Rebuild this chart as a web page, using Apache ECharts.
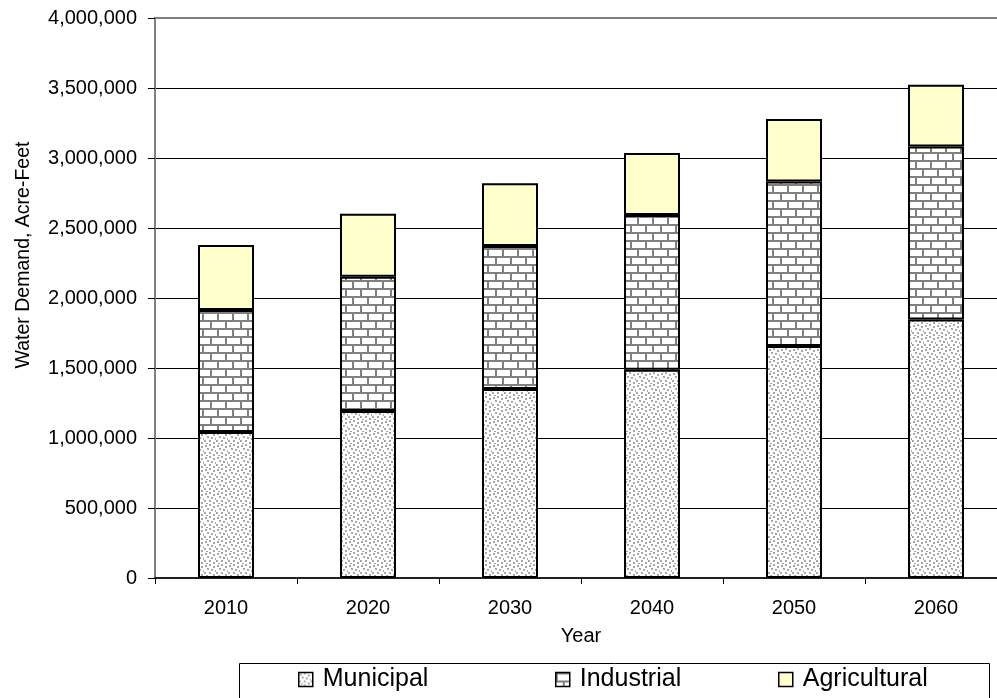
<!DOCTYPE html>
<html>
<head>
<meta charset="utf-8">
<script src="https://cdn.jsdelivr.net/npm/echarts@6/dist/echarts.min.js"></script>
<style>
html,body{margin:0;padding:0;background:#fff;overflow:hidden;width:997px;height:698px;}
#chart{width:1012px;height:698px;}
</style>
</head>
<body>
<div id="chart"></div>
<script>
var years = ['2010', '2020', '2030', '2040', '2050', '2060'];
var municipal = [1043000, 1193000, 1350000, 1488000, 1657000, 1847000];
var industrial = [871000, 959000, 1021000, 1105000, 1176000, 1236000];
var agricultural = [465000, 450000, 448000, 443000, 446000, 441000];
var seriesNames = ['Municipal', 'Industrial', 'Agricultural'];
var yMin = 0, yMax = 4000000, yStep = 500000;

function dotPattern() {
  var c = document.createElement('canvas');
  c.width = 12; c.height = 12;
  var g = c.getContext('2d');
  g.fillStyle = '#ffffff'; g.fillRect(0, 0, 12, 12);
  g.fillStyle = '#a8a8a8';
  var pts = [[1,1],[5,0],[9,2],[3,4],[7,5],[11,6],[0,8],[5,8],[9,10],[2,11]];
  pts.forEach(function (p) { g.fillRect(p[0], p[1], 2, 2); });
  return c;
}
function brickPattern() {
  var c = document.createElement('canvas');
  c.width = 15; c.height = 16;
  var g = c.getContext('2d');
  g.fillStyle = '#ffffff'; g.fillRect(0, 0, 15, 16);
  g.fillStyle = '#808080';
  g.fillRect(0, 0, 15, 2);
  g.fillRect(0, 8, 15, 2);
  g.fillRect(0, 2, 2, 6);
  g.fillRect(7, 10, 2, 6);
  return c;
}

var chart = echarts.init(document.getElementById('chart'), null, {renderer: 'canvas'});
var fills = [
  {image: dotPattern(), repeat: 'repeat'},
  {image: brickPattern(), repeat: 'repeat'},
  '#FFFFCC'
];
var values = [municipal, industrial, agricultural];
var FONT = 'Liberation Sans, Arial, sans-serif';

var legendLefts = [298, 555, 778];
var legends = seriesNames.map(function (n, i) {
  return {
    data: [n],
    left: legendLefts[i],
    top: 667,
    padding: 0,
    icon: 'rect',
    itemWidth: 14,
    itemHeight: 14,
    selectedMode: false,
    itemStyle: {borderColor: '#000', borderWidth: 1.5},
    textStyle: {fontFamily: FONT, fontSize: 25, color: '#000', lineHeight: 25, padding: [0, 0, 0, 5]}
  };
});

var option = {
  animation: false,
  backgroundColor: '#ffffff',
  textStyle: {fontFamily: FONT},
  grid: {
    left: 155, top: 18, width: 852, height: 560,
    show: true, borderColor: '#808080', borderWidth: 2, backgroundColor: 'transparent',
    containLabel: false
  },
  legend: legends,
  graphic: [
    {type: 'rect', left: 237, top: 661, z: -1, shape: {x: 0, y: 0, width: 750, height: 36},
     style: {fill: 'none', stroke: '#000', lineWidth: 1}},
    {type: 'text', x: 24, y: 255, rotation: Math.PI / 2,
     style: {text: 'Water Demand, Acre-Feet', font: '19.5px ' + FONT, fill: '#000', align: 'center', verticalAlign: 'middle'}}
  ],
  xAxis: {
    type: 'category',
    data: years,
    name: 'Year',
    nameLocation: 'middle',
    nameGap: 48,
    nameTextStyle: {fontFamily: FONT, fontSize: 20, color: '#000'},
    axisLine: {show: true, lineStyle: {color: '#000', width: 1.5}},
    axisTick: {show: true, length: 6, interval: 0, lineStyle: {color: '#000', width: 1}},
    axisLabel: {fontFamily: FONT, fontSize: 20, color: '#000', margin: 20, interval: 0},
    splitLine: {show: false}
  },
  yAxis: {
    type: 'value',
    min: yMin, max: yMax, interval: yStep,
    axisLine: {show: true, lineStyle: {color: '#808080', width: 2}},
    axisTick: {show: true, length: 7, lineStyle: {color: '#000', width: 1}},
    axisLabel: {fontFamily: FONT, fontSize: 20, color: '#000', margin: 18,
      formatter: function (v) { return v.toLocaleString('en-US'); }},
    splitLine: {show: true, showMinLine: false, showMaxLine: false, lineStyle: {color: '#000', width: 1}}
  },
  series: seriesNames.map(function (n, i) {
    return {
      name: n,
      type: 'bar',
      stack: 'total',
      barWidth: 56,
      data: values[i],
      itemStyle: {color: fills[i], borderColor: '#000', borderWidth: 2}
    };
  })
};
chart.setOption(option);
</script>
</body>
</html>
